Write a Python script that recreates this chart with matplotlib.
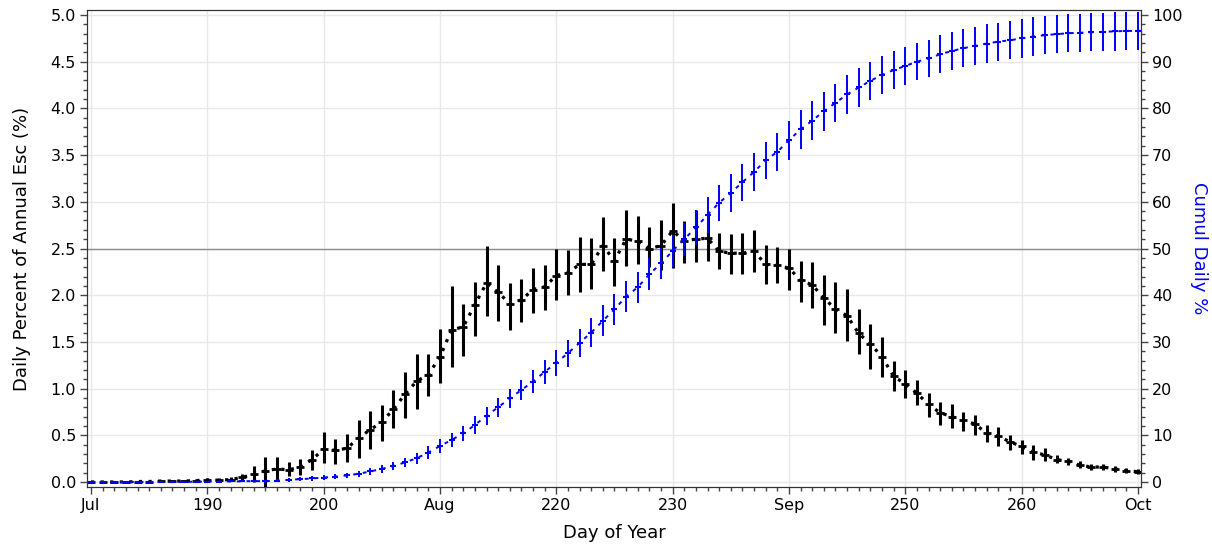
import numpy as np
import matplotlib
matplotlib.use("Agg")
import matplotlib.pyplot as plt
from matplotlib.ticker import MultipleLocator

# day of year, one point per day
days = np.arange(180, 271)

# daily percent of annual escapement (mean, lower, upper)
daily_mean = [0.0, 0.0, 0.0, 0.0, 0.005, 0.005, 0.01, 0.01, 0.01, 0.015, 0.02, 0.02, 0.025, 0.05,
              0.08, 0.12, 0.14, 0.13, 0.16, 0.24, 0.35, 0.34, 0.36, 0.47, 0.56, 0.64, 0.78, 0.94, 1.08, 1.15, 1.34, 1.63, 1.66,
              1.90, 2.13, 2.03, 1.91, 1.95, 2.06, 2.09, 2.21, 2.24, 2.33, 2.33, 2.53, 2.37, 2.60, 2.58, 2.50,
              2.53, 2.69, 2.58, 2.60, 2.61, 2.47, 2.45, 2.45, 2.47, 2.33, 2.32, 2.29, 2.16, 2.11, 1.97, 1.85,
              1.78, 1.59, 1.48, 1.34, 1.13, 1.05, 0.95, 0.83, 0.74, 0.70, 0.66, 0.62, 0.52, 0.49, 0.43, 0.38,
              0.32, 0.29, 0.24, 0.22, 0.18, 0.16, 0.16, 0.14, 0.12, 0.11]
daily_lo = [0, 0, 0, 0, 0, 0, 0, 0, 0, 0.005, 0.01, 0.01, 0.01, 0.02,
            0.0, -0.05, 0.02, 0.06, 0.07, 0.13, 0.20, 0.19, 0.21, 0.26, 0.35, 0.44, 0.58, 0.68, 0.78, 0.92, 1.06, 1.23, 1.35,
            1.56, 1.78, 1.72, 1.63, 1.71, 1.81, 1.84, 1.95, 2.00, 2.03, 2.07, 2.26, 2.10, 2.31, 2.33, 2.30,
            2.27, 2.29, 2.35, 2.36, 2.37, 2.28, 2.23, 2.23, 2.25, 2.12, 2.13, 2.06, 1.93, 1.86, 1.68, 1.59,
            1.51, 1.37, 1.21, 1.12, 0.97, 0.90, 0.82, 0.70, 0.61, 0.58, 0.55, 0.50, 0.43, 0.39, 0.34, 0.30,
            0.24, 0.22, 0.20, 0.18, 0.15, 0.13, 0.13, 0.11, 0.10, 0.09]
daily_hi = [0, 0, 0, 0, 0.01, 0.01, 0.02, 0.02, 0.02, 0.03, 0.04, 0.04, 0.05, 0.08,
            0.17, 0.27, 0.27, 0.21, 0.25, 0.34, 0.54, 0.46, 0.51, 0.66, 0.76, 0.82, 0.98, 1.18, 1.37, 1.37, 1.64, 2.10, 1.91,
            2.14, 2.53, 2.32, 2.13, 2.17, 2.29, 2.32, 2.49, 2.48, 2.62, 2.61, 2.84, 2.61, 2.91, 2.85, 2.73,
            2.80, 2.99, 2.79, 2.91, 2.86, 2.67, 2.66, 2.67, 2.70, 2.54, 2.52, 2.50, 2.37, 2.36, 2.22, 2.14,
            2.07, 1.85, 1.69, 1.55, 1.30, 1.20, 1.09, 0.95, 0.86, 0.83, 0.75, 0.72, 0.61, 0.59, 0.50, 0.45,
            0.40, 0.36, 0.29, 0.26, 0.22, 0.19, 0.19, 0.17, 0.15, 0.14]

# cumulative daily percent and half width of its bars
cumul = [0, 0, 0, 0, 0.01, 0.01, 0.02, 0.03, 0.04, 0.05, 0.07, 0.09, 0.11, 0.14, 0.2,
         0.15, 0.3, 0.45, 0.6, 0.75, 0.95, 1.15, 1.4, 1.75, 2.25, 2.8, 3.4, 4.2, 5.1,
         6.3, 7.7, 9.0, 10.4, 12.2, 14.2, 16.0, 17.9, 19.7, 21.5, 23.6, 25.5, 27.6, 29.8, 32.0, 34.5,
         37.0, 39.7, 41.7, 44.5, 46.8, 49.5, 52.0, 54.5, 57.2, 59.8, 61.9, 64.2, 66.4, 68.9, 70.7,
         73.2, 75.5, 77.4, 79.4, 81.2, 83.0, 84.5, 85.9, 87.2, 88.2, 89.1, 90.0, 90.7, 91.6, 92.3, 92.9,
         93.4, 93.9, 94.3, 94.6, 95.0, 95.4, 95.7, 95.9, 96.1, 96.2, 96.3, 96.4, 96.5, 96.6, 96.6]
cumul_err = [0, 0, 0, 0, 0, 0, 0, 0, 0, 0, 0.02, 0.03, 0.05, 0.08, 0.15,
             0.3, 0.35, 0.4, 0.45, 0.5, 0.5, 0.55, 0.6, 0.65, 0.7, 0.8, 0.9, 1.0, 1.15,
             1.35, 1.4, 1.5, 1.65, 1.85, 1.95, 2.0, 2.1, 2.2, 2.4, 2.6, 2.85, 2.9, 3.0, 3.1, 3.3,
             3.3, 3.3, 3.3, 3.4, 3.4, 3.4, 3.5, 3.7, 3.8, 3.9, 4.0, 4.0, 4.0, 4.0, 4.1,
             4.2, 4.2, 4.1, 4.2, 4.1, 4.1, 4.1, 4.0, 4.1, 4.1, 4.0, 4.0, 4.0, 4.1, 4.1, 4.1,
             4.1, 4.1, 4.1, 4.1, 4.1, 4.1, 4.1, 4.1, 4.1, 4.1, 4.1, 4.1, 4.1, 4.1, 4.1]

xtick_pos = [180, 190, 200, 210, 220, 230, 240, 250, 260, 270]
xtick_labels = ["Jul", "190", "200", "Aug", "220", "230", "Sep", "250", "260", "Oct"]

plt.rcParams['font.family'] = ['DejaVu Sans']

fig = plt.figure(figsize=(12.12, 5.55), dpi=100)
ax = fig.add_axes([0.0718, 0.1225, 0.8696, 0.8595])
ax2 = ax.twinx()

mean = np.array(daily_mean)
lo = np.array(daily_lo)
hi = np.array(daily_hi)

ax.grid(True, color='#e8e8e8', lw=1)
ax.set_axisbelow(True)
ax.axhline(2.5, color='#8c8c8c', lw=1, zorder=1)

ax.errorbar(days, mean, yerr=[mean - lo, hi - mean], fmt='none', ecolor='black',
            elinewidth=2.2, capsize=0, zorder=3)
ax.plot(days, mean, color='black', ls=(0, (1, 2)), lw=2.3, marker='_', ms=6, mew=2, zorder=4)

c = np.array(cumul)
ax2.errorbar(days, c, yerr=cumul_err, fmt='none', ecolor='#0000ff',
             elinewidth=1.4, capsize=0, zorder=3)
ax2.plot(days, c, color='#0000ff', ls=(0, (2, 3)), lw=1.4, marker='_', ms=5, mew=1.5, zorder=4)

ax.set_xlim(179.66, 270.26)
ax.set_ylim(-0.054, 5.054)
ax2.set_ylim(-1.08, 101.08)

ax.set_xticks(xtick_pos)
ax.set_xticklabels(xtick_labels)
ax.xaxis.set_minor_locator(MultipleLocator(1))
ax.set_yticks(np.arange(0, 5.01, 0.5))
ax.yaxis.set_major_formatter(matplotlib.ticker.FormatStrFormatter('%.1f'))
ax.yaxis.set_minor_locator(MultipleLocator(0.1))
ax2.set_yticks(np.arange(0, 101, 10))
ax2.yaxis.set_minor_locator(MultipleLocator(2))

for a in (ax, ax2):
    a.tick_params(which='major', length=5, width=1, color='#444444', labelsize=11.5, pad=3)
    a.tick_params(which='minor', length=3, width=1, color='#444444')
    for s in a.spines.values():
        s.set_color('#333333')

ax.set_xlabel("Day of Year", fontsize=13, labelpad=8)
ax.set_ylabel("Daily Percent of Annual Esc (%)", fontsize=13, labelpad=14)
ax2.set_ylabel("Cumul Daily %", fontsize=13, color='#0000ff', rotation=270, labelpad=18)

fig.savefig("out.png", dpi=100)
